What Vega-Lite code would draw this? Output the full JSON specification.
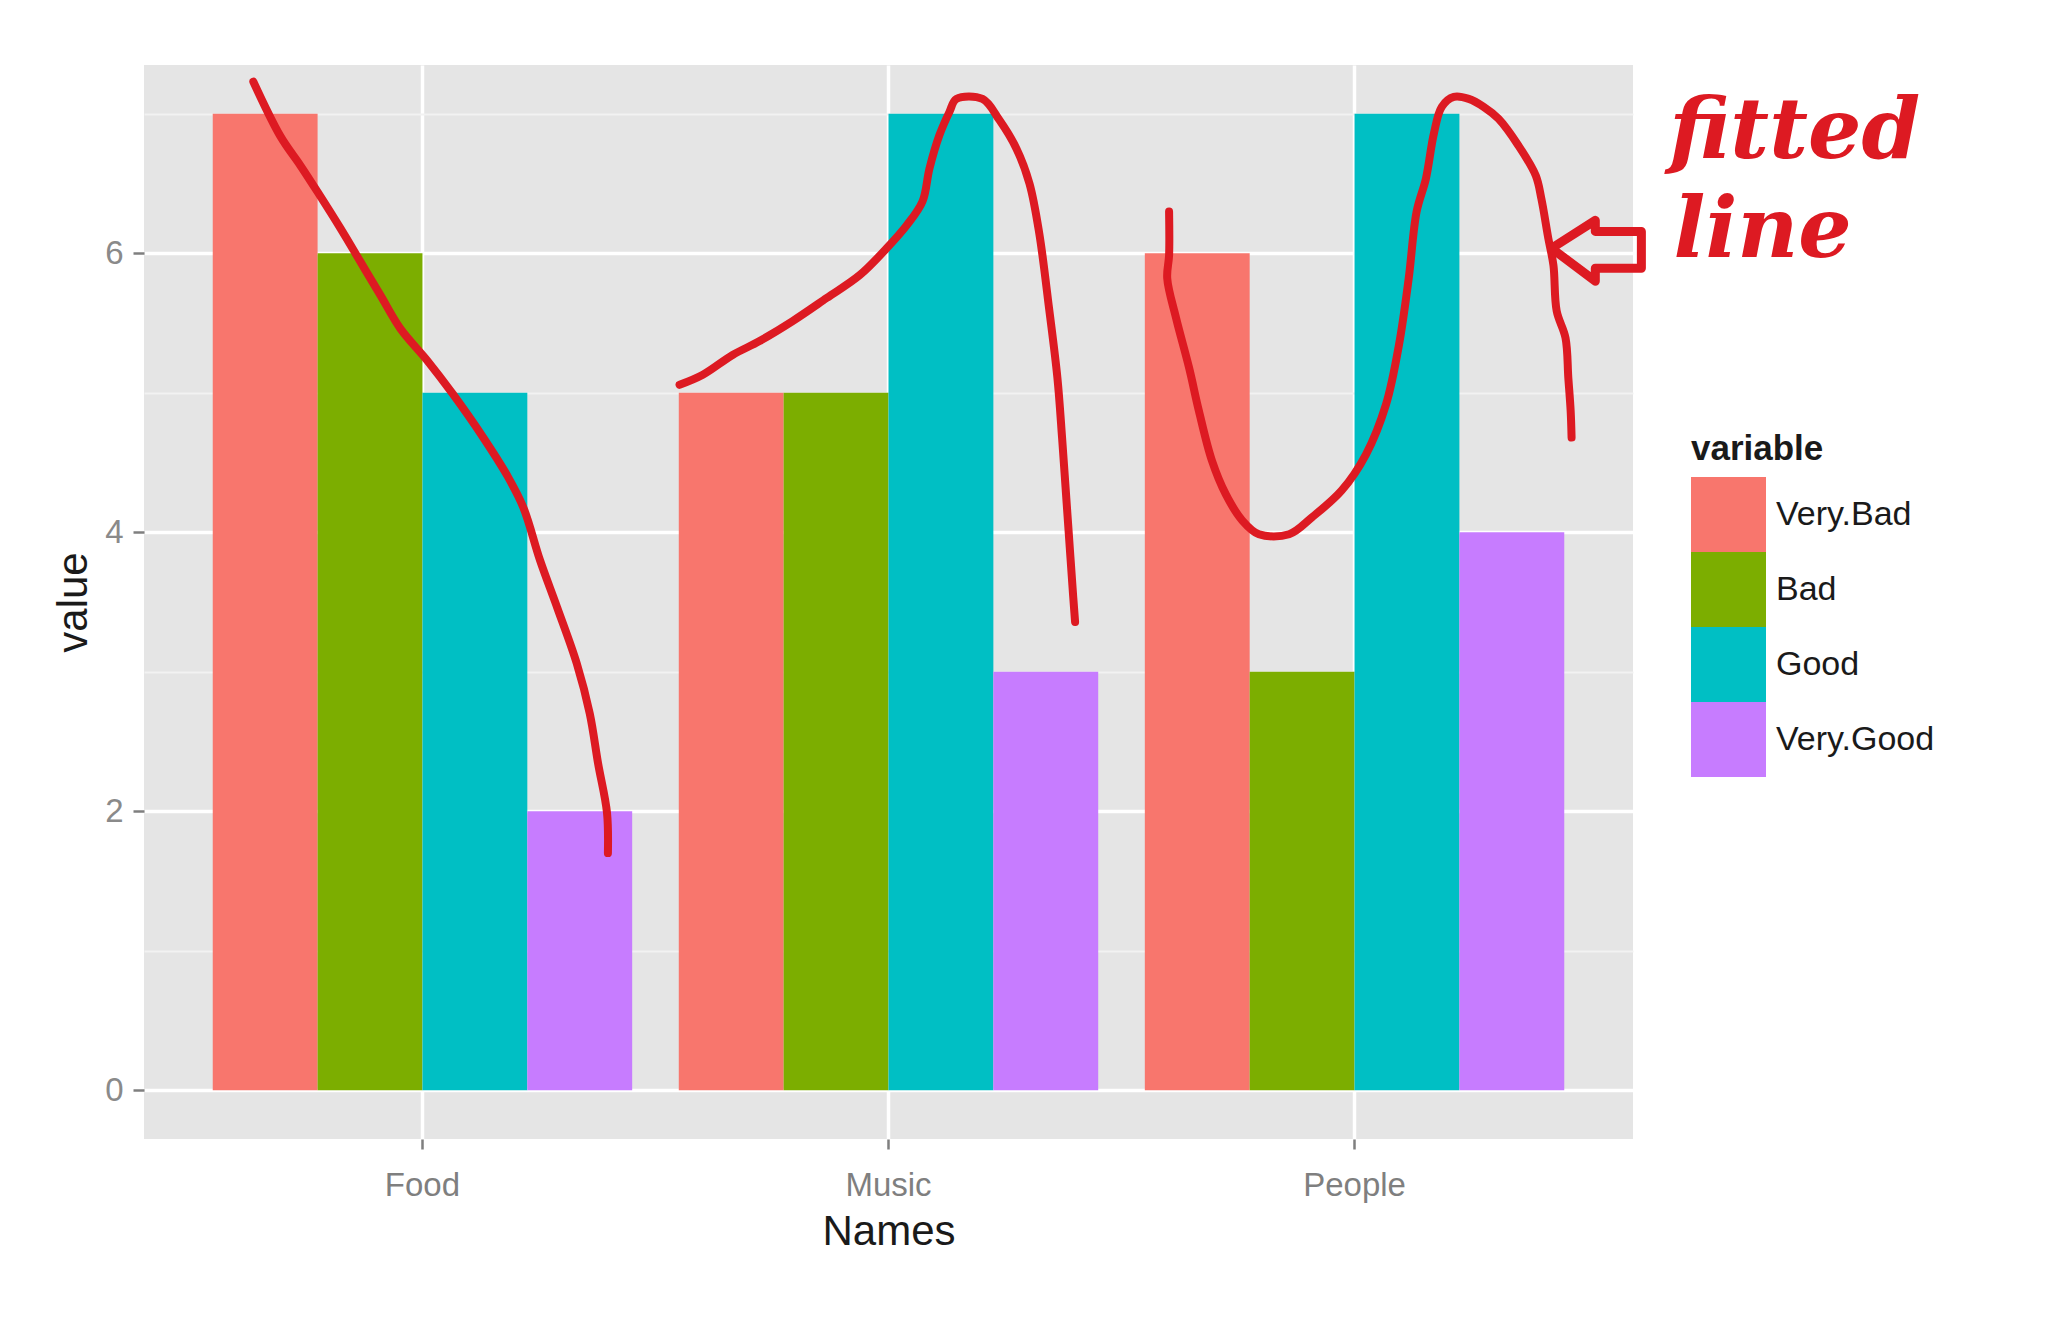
{
  "$schema": "https://vega.github.io/schema/vega-lite/v6.json",
  "autosize": {"type": "none"},
  "width": 1489,
  "height": 1074,
  "padding": {"left": 144, "top": 65, "right": 415, "bottom": 179},
  "background": "#FFFFFF",
  "config": {
    "view": {"fill": "#E5E5E5", "stroke": null},
    "font": "Liberation Sans"
  },
  "datasets": {
    "bars": [
      {"Names": "Food", "variable": "Very.Bad", "value": 7},
      {"Names": "Food", "variable": "Bad", "value": 6},
      {"Names": "Food", "variable": "Good", "value": 5},
      {"Names": "Food", "variable": "Very.Good", "value": 2},
      {"Names": "Music", "variable": "Very.Bad", "value": 5},
      {"Names": "Music", "variable": "Bad", "value": 5},
      {"Names": "Music", "variable": "Good", "value": 7},
      {"Names": "Music", "variable": "Very.Good", "value": 3},
      {"Names": "People", "variable": "Very.Bad", "value": 6},
      {"Names": "People", "variable": "Bad", "value": 3},
      {"Names": "People", "variable": "Good", "value": 7},
      {"Names": "People", "variable": "Very.Good", "value": 4}
    ],
    "sketch": [
      {"seg": "food", "k": 1, "u": 0.635, "v": 7.23},
      {"seg": "food", "k": 2, "u": 0.693, "v": 6.84},
      {"seg": "food", "k": 3, "u": 0.736, "v": 6.63},
      {"seg": "food", "k": 4, "u": 0.773, "v": 6.44},
      {"seg": "food", "k": 5, "u": 0.822, "v": 6.18},
      {"seg": "food", "k": 6, "u": 0.865, "v": 5.94},
      {"seg": "food", "k": 7, "u": 0.908, "v": 5.70},
      {"seg": "food", "k": 8, "u": 0.951, "v": 5.46},
      {"seg": "food", "k": 9, "u": 1.009, "v": 5.23},
      {"seg": "food", "k": 10, "u": 1.064, "v": 4.99},
      {"seg": "food", "k": 11, "u": 1.129, "v": 4.68},
      {"seg": "food", "k": 12, "u": 1.180, "v": 4.41},
      {"seg": "food", "k": 13, "u": 1.215, "v": 4.18},
      {"seg": "food", "k": 14, "u": 1.251, "v": 3.80},
      {"seg": "food", "k": 15, "u": 1.288, "v": 3.46},
      {"seg": "food", "k": 16, "u": 1.330, "v": 3.06},
      {"seg": "food", "k": 17, "u": 1.358, "v": 2.70},
      {"seg": "food", "k": 18, "u": 1.376, "v": 2.34},
      {"seg": "food", "k": 19, "u": 1.395, "v": 1.99},
      {"seg": "food", "k": 20, "u": 1.397, "v": 1.70},
      {"seg": "music", "k": 1, "u": 1.551, "v": 5.057},
      {"seg": "music", "k": 2, "u": 1.601, "v": 5.129},
      {"seg": "music", "k": 3, "u": 1.665, "v": 5.271},
      {"seg": "music", "k": 4, "u": 1.723, "v": 5.371},
      {"seg": "music", "k": 5, "u": 1.794, "v": 5.514},
      {"seg": "music", "k": 6, "u": 1.867, "v": 5.679},
      {"seg": "music", "k": 7, "u": 1.938, "v": 5.843},
      {"seg": "music", "k": 8, "u": 1.996, "v": 6.036},
      {"seg": "music", "k": 9, "u": 2.039, "v": 6.200},
      {"seg": "music", "k": 10, "u": 2.073, "v": 6.371},
      {"seg": "music", "k": 11, "u": 2.088, "v": 6.607},
      {"seg": "music", "k": 12, "u": 2.109, "v": 6.843},
      {"seg": "music", "k": 13, "u": 2.131, "v": 7.014},
      {"seg": "music", "k": 14, "u": 2.146, "v": 7.107},
      {"seg": "music", "k": 15, "u": 2.202, "v": 7.107},
      {"seg": "music", "k": 16, "u": 2.238, "v": 6.957},
      {"seg": "music", "k": 17, "u": 2.275, "v": 6.750},
      {"seg": "music", "k": 18, "u": 2.303, "v": 6.500},
      {"seg": "music", "k": 19, "u": 2.324, "v": 6.143},
      {"seg": "music", "k": 20, "u": 2.345, "v": 5.607},
      {"seg": "music", "k": 21, "u": 2.363, "v": 5.107},
      {"seg": "music", "k": 22, "u": 2.373, "v": 4.679},
      {"seg": "music", "k": 23, "u": 2.382, "v": 4.250},
      {"seg": "music", "k": 24, "u": 2.391, "v": 3.821},
      {"seg": "music", "k": 25, "u": 2.397, "v": 3.536},
      {"seg": "music", "k": 26, "u": 2.401, "v": 3.357},
      {"seg": "people", "k": 1, "u": 2.603, "v": 6.300},
      {"seg": "people", "k": 2, "u": 2.603, "v": 5.986},
      {"seg": "people", "k": 3, "u": 2.599, "v": 5.821},
      {"seg": "people", "k": 4, "u": 2.618, "v": 5.536},
      {"seg": "people", "k": 5, "u": 2.646, "v": 5.179},
      {"seg": "people", "k": 6, "u": 2.667, "v": 4.871},
      {"seg": "people", "k": 7, "u": 2.695, "v": 4.514},
      {"seg": "people", "k": 8, "u": 2.725, "v": 4.271},
      {"seg": "people", "k": 9, "u": 2.760, "v": 4.086},
      {"seg": "people", "k": 10, "u": 2.796, "v": 3.986},
      {"seg": "people", "k": 11, "u": 2.861, "v": 3.986},
      {"seg": "people", "k": 12, "u": 2.910, "v": 4.107},
      {"seg": "people", "k": 13, "u": 2.974, "v": 4.300},
      {"seg": "people", "k": 14, "u": 3.026, "v": 4.557},
      {"seg": "people", "k": 15, "u": 3.069, "v": 4.914},
      {"seg": "people", "k": 16, "u": 3.097, "v": 5.343},
      {"seg": "people", "k": 17, "u": 3.118, "v": 5.821},
      {"seg": "people", "k": 18, "u": 3.135, "v": 6.300},
      {"seg": "people", "k": 19, "u": 3.155, "v": 6.536},
      {"seg": "people", "k": 20, "u": 3.172, "v": 6.857},
      {"seg": "people", "k": 21, "u": 3.189, "v": 7.050},
      {"seg": "people", "k": 22, "u": 3.215, "v": 7.121},
      {"seg": "people", "k": 23, "u": 3.247, "v": 7.107},
      {"seg": "people", "k": 24, "u": 3.279, "v": 7.050},
      {"seg": "people", "k": 25, "u": 3.311, "v": 6.964},
      {"seg": "people", "k": 26, "u": 3.354, "v": 6.771},
      {"seg": "people", "k": 27, "u": 3.391, "v": 6.557},
      {"seg": "people", "k": 28, "u": 3.403, "v": 6.393},
      {"seg": "people", "k": 29, "u": 3.418, "v": 6.107},
      {"seg": "people", "k": 30, "u": 3.429, "v": 5.914},
      {"seg": "people", "k": 31, "u": 3.436, "v": 5.586},
      {"seg": "people", "k": 32, "u": 3.455, "v": 5.393},
      {"seg": "people", "k": 33, "u": 3.461, "v": 5.107},
      {"seg": "people", "k": 34, "u": 3.466, "v": 4.871},
      {"seg": "people", "k": 35, "u": 3.468, "v": 4.679}
    ],
    "arrow": [
      {"k": 1, "u": 3.425, "v": 6.036},
      {"k": 2, "u": 3.519, "v": 6.236},
      {"k": 3, "u": 3.519, "v": 6.157},
      {"k": 4, "u": 3.618, "v": 6.157},
      {"k": 5, "u": 3.618, "v": 5.893},
      {"k": 6, "u": 3.519, "v": 5.893},
      {"k": 7, "u": 3.519, "v": 5.800},
      {"k": 8, "u": 3.425, "v": 6.036}
    ],
    "notes": [
      {"label": "fitted", "u": 3.678, "v": 6.686},
      {"label": "line", "u": 3.687, "v": 5.971}
    ]
  },
  "layer": [
    {
      "data": {"name": "bars"},
      "mark": {"type": "bar"},
      "encoding": {
        "x": {
          "field": "Names",
          "type": "nominal",
          "scale": {"paddingInner": 0.1, "paddingOuter": 0.1475},
          "axis": {
            "title": "Names",
            "grid": true,
            "gridColor": "#FFFFFF",
            "gridWidth": 3.5,
            "bandPosition": 0.5,
            "domain": false,
            "tickColor": "#7F7F7F",
            "tickSize": 10,
            "tickWidth": 2.5,
            "labelFontSize": 33,
            "labelColor": "#7F7F7F",
            "labelPadding": 20,
            "labelAngle": 0,
            "titleFontSize": 42,
            "titleFontWeight": "normal",
            "titleColor": "#1A1A1A",
            "titlePadding": 9
          }
        },
        "xOffset": {
          "field": "variable",
          "type": "nominal",
          "sort": ["Very.Bad", "Bad", "Good", "Very.Good"],
          "scale": {"paddingInner": 0, "paddingOuter": 0}
        },
        "y": {
          "field": "value",
          "type": "quantitative",
          "scale": {"domain": [-0.35, 7.35], "nice": false},
          "axis": {
            "title": "value",
            "values": [0, 1, 2, 3, 4, 5, 6, 7],
            "format": "d",
            "labelExpr": "datum.value % 2 === 0 ? datum.label : ''",
            "grid": true,
            "gridColor": {"condition": {"test": "datum.value % 2 === 1", "value": "#F2F2F2"}, "value": "#FFFFFF"},
            "gridWidth": {"condition": {"test": "datum.value % 2 === 1", "value": 2}, "value": 3.5},
            "tickOpacity": {"condition": {"test": "datum.value % 2 === 1", "value": 0}, "value": 1},
            "domain": false,
            "tickColor": "#7F7F7F",
            "tickSize": 11,
            "tickWidth": 2.5,
            "labelFontSize": 33,
            "labelColor": "#8A8A8A",
            "labelPadding": 10,
            "titleFontSize": 42,
            "titleFontWeight": "normal",
            "titleColor": "#1A1A1A",
            "titlePadding": 9
          }
        },
        "y2": {"datum": 0},
        "color": {
          "field": "variable",
          "type": "nominal",
          "sort": ["Very.Bad", "Bad", "Good", "Very.Good"],
          "scale": {
            "domain": ["Very.Bad", "Bad", "Good", "Very.Good"],
            "range": ["#F8766D", "#7CAE00", "#00BFC4", "#C77CFF"]
          },
          "legend": {
            "orient": "none",
            "legendX": 1547,
            "legendY": 367,
            "title": "variable",
            "titleFontSize": 35,
            "titleFontWeight": "bold",
            "titleColor": "#1A1A1A",
            "titlePadding": 10,
            "labelFontSize": 34,
            "labelColor": "#1A1A1A",
            "labelOffset": 10,
            "labelLimit": 400,
            "symbolType": "square",
            "symbolSize": 5625,
            "symbolStrokeWidth": 0,
            "symbolOpacity": 1,
            "rowPadding": 0
          }
        }
      }
    },
    {
      "data": {"name": "sketch"},
      "mark": {"type": "line", "color": "#DD1A22", "strokeWidth": 8, "strokeCap": "round", "strokeJoin": "round", "interpolate": "catmull-rom", "clip": false},
      "encoding": {
        "x": {"field": "u", "type": "quantitative", "scale": {"domain": [0.4, 3.6], "nice": false}, "axis": null},
        "y": {"field": "v", "type": "quantitative"},
        "detail": {"field": "seg", "type": "nominal"},
        "order": {"field": "k", "type": "quantitative"}
      }
    },
    {
      "data": {"name": "arrow"},
      "mark": {"type": "line", "color": "#DD1A22", "strokeWidth": 9, "strokeCap": "round", "strokeJoin": "round", "clip": false},
      "encoding": {
        "x": {"field": "u", "type": "quantitative", "scale": {"domain": [0.4, 3.6], "nice": false}, "axis": null},
        "y": {"field": "v", "type": "quantitative"},
        "order": {"field": "k", "type": "quantitative"}
      }
    },
    {
      "data": {"name": "notes"},
      "mark": {"type": "text", "font": "DejaVu Serif", "fontWeight": "bold", "fontStyle": "italic", "fontSize": 84, "color": "#DD1A22", "align": "left", "baseline": "alphabetic", "clip": false},
      "encoding": {
        "x": {"field": "u", "type": "quantitative", "scale": {"domain": [0.4, 3.6], "nice": false}, "axis": null},
        "y": {"field": "v", "type": "quantitative"},
        "text": {"field": "label", "type": "nominal"}
      }
    }
  ],
  "resolve": {"scale": {"x": "independent"}}
}
